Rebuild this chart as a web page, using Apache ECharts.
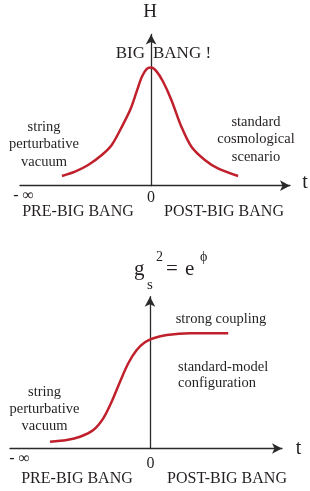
<!DOCTYPE html>
<html><head><meta charset="utf-8">
<script src="https://cdn.jsdelivr.net/npm/echarts@6/dist/echarts.min.js"></script>
<style>html,body{margin:0;padding:0;background:#fff}#c{width:310px;height:491px}</style>
</head><body><div id="c"></div>
<script>
// Top panel: Hubble parameter H vs time t
const topT = [-0.68, -0.58, -0.48, -0.376, -0.30, -0.229, -0.16, -0.109, -0.071, -0.033, 0, 0.04, 0.092, 0.155, 0.231, 0.308, 0.41, 0.51, 0.664];
const topH = [0.082, 0.119, 0.175, 0.26, 0.345, 0.486, 0.64, 0.80, 0.92, 0.99, 1.0, 0.97, 0.88, 0.726, 0.50, 0.33, 0.218, 0.147, 0.082];
// Bottom panel: string coupling g_s^2 vs time t
const botT = [-0.714, -0.595, -0.50, -0.405, -0.334, -0.274, -0.214, -0.155, -0.095, -0.036, 0.024, 0.12, 0.286, 0.559];
const botG = [0.059, 0.074, 0.102, 0.16, 0.262, 0.406, 0.58, 0.74, 0.855, 0.922, 0.957, 0.985, 1.0, 1.0];
// Labels
const topYLabel = 'H';
const xLabel = 't';
const zeroLabel = '0';
const minusInf = '- ∞';
const eraLabels = ['PRE-BIG BANG', 'POST-BIG BANG'];
const topNotes = ['string\nperturbative\nvacuum', 'standard\ncosmological\nscenario'];
const bigBang = ['BIG', 'BANG !'];
const botNotes = ['strong coupling', 'standard-model\nconfiguration', 'string\nperturbative\nvacuum'];
const titleParts = ['g', 's', '2', '=', 'e', 'ϕ'];

const RED = '#c0202c', AX = '#2a2a2a', TXT = '#231f20', FONT = '"Liberation Serif", "DejaVu Serif", serif';
const axLine = {show: true, onZero: true, symbol: ['none', 'arrow'], symbolSize: [8, 10], lineStyle: {color: AX, width: 1.3}};
function xa(g, min, max) { return {type: 'value', gridIndex: g, min, max, axisLine: axLine, axisTick: {show: false}, axisLabel: {show: false}, splitLine: {show: false}}; }
function ya(g, max) { return {type: 'value', gridIndex: g, min: 0, max, axisLine: axLine, axisTick: {show: false}, axisLabel: {show: false}, splitLine: {show: false}}; }
function T(text, x, y, size, align, extra) {
  return {type: 'text', x, y, silent: true, style: Object.assign({text, fill: TXT, font: size + 'px ' + FONT, textAlign: align || 'center', textVerticalAlign: 'middle'}, extra || {})};
}
const chart = echarts.init(document.getElementById('c'), null, {renderer: 'canvas'});
chart.setOption({
  animation: false,
  grid: [
    {left: 20, top: 34.5, width: 270, height: 151.2},
    {left: 10, top: 296.7, width: 272, height: 151.8}
  ],
  xAxis: [xa(0, -1, 1.06), xa(1, -1, 0.943)],
  yAxis: [ya(0, 1.28), ya(1, 1.318)],
  series: [
    {type: 'line', xAxisIndex: 0, yAxisIndex: 0, smooth: 0.3, showSymbol: false, lineStyle: {color: RED, width: 2.5}, data: topT.map((t, i) => [t, topH[i]])},
    {type: 'line', xAxisIndex: 1, yAxisIndex: 1, smooth: 0.3, showSymbol: false, lineStyle: {color: RED, width: 2.5}, data: botT.map((t, i) => [t, botG[i]])}
  ],
  graphic: [
    T(topYLabel, 150, 12, 19),
    T(bigBang[0], 145, 54, 17, 'right'),
    T(bigBang[1], 153, 54, 17, 'left'),
    T(topNotes[0], 44, 144.5, 14.5, 'center', {lineHeight: 17.5}),
    T(topNotes[1], 256, 139.5, 14.5, 'center', {lineHeight: 17.5}),
    T(minusInf, 23.5, 196, 16),
    T(zeroLabel, 151, 198, 16),
    T(eraLabels[0], 78, 212, 16),
    T(eraLabels[1], 224, 212, 16),
    T(xLabel, 305, 183, 20),
    // bottom title g_s^2 = e^phi
    T(titleParts[0], 134, 269, 21, 'left'),
    T(titleParts[1], 147, 285, 15, 'left'),
    T(titleParts[2], 156, 257, 14, 'left'),
    T(titleParts[3], 166, 269, 21, 'left'),
    T(titleParts[4], 185, 269, 21, 'left'),
    T(titleParts[5], 200, 257, 14, 'left'),
    T(botNotes[0], 221, 319, 14.5),
    T(botNotes[1], 178, 375.3, 14.5, 'left', {lineHeight: 15.5}),
    T(botNotes[2], 44.5, 409, 14.5, 'center', {lineHeight: 17}),
    T(minusInf, 19.5, 459, 16),
    T(zeroLabel, 150.5, 464, 16),
    T(eraLabels[0], 77, 479, 16),
    T(eraLabels[1], 227, 479, 16),
    T(xLabel, 298.5, 448.5, 20)
  ]
});
</script></body></html>
